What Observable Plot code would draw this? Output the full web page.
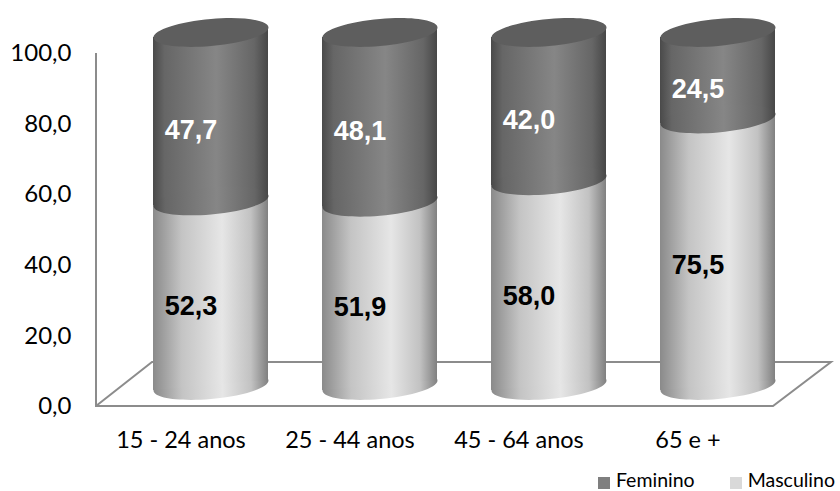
<!DOCTYPE html>
<html>
<head>
<meta charset="utf-8">
<script src="https://cdn.jsdelivr.net/npm/d3@7"></script>
<script src="https://cdn.jsdelivr.net/npm/@observablehq/plot@0.6"></script>
<style>
html,body{margin:0;padding:0;background:#fff;overflow:hidden}
#legend{box-sizing:border-box;display:flex;justify-content:flex-end;align-items:center;height:25px;padding-right:5px;padding-top:2px;font:19.5px Lato,sans-serif;line-height:23px;color:#000}
#legend span.s{display:inline-block;width:12px;height:12px;margin-right:6px;transform:translateY(3px)}
#legend span.t{margin-right:35px}
#legend span.t:last-child{margin-right:0}
</style>
</head>
<body>
<div id="chart"></div>
<div id="legend">
  <span class="s" style="background:#7f7f7f"></span><span class="t">Feminino</span>
  <span class="s" style="background:#d9d9d9"></span><span class="t">Masculino</span>
</div>
<script>
const idades = ["15 - 24 anos", "25 - 44 anos", "45 - 64 anos", "65 e +"];
const masculino = [52.3, 51.9, 58.0, 75.5];
const feminino = [47.7, 48.1, 42.0, 24.5];
const yTicks = [0, 20, 40, 60, 80, 100];

const rows = idades.flatMap((idade, i) => [
  {idade, sexo: "Masculino", valor: masculino[i]},
  {idade, sexo: "Feminino", valor: feminino[i]}
]);
const tops = idades.map((idade, i) => ({idade, base: masculino[i], topo: masculino[i] + feminino[i]}));
const fmt = (v) => v.toFixed(1).replace(".", ",");

const tilt = 0.087;

// Skewed ellipse symbol: the cut of a cylinder seen in Excel-style 3D
const cap = {
  draw(ctx, size) {
    const a = Math.sqrt(size / Math.PI), b = a * 0.235, k = 0.5523;
    const P = (u, v) => [a * u, b * v - tilt * a * u];
    const c = (p1, p2, p3) => ctx.bezierCurveTo(...P(...p1), ...P(...p2), ...P(...p3));
    ctx.moveTo(...P(1, 0));
    c([1, k], [k, 1], [0, 1]);
    c([-k, 1], [-1, k], [-1, 0]);
    c([-1, -k], [-k, -1], [0, -1]);
    c([k, -1], [1, -k], [1, 0]);
    ctx.closePath();
  }
};

// Tilt each bar by the same slope as the ellipses, so their ends meet the bar corners
const tiltBars = (index, scales, values, dims, context, next) => {
  const g = next(index, scales, values, dims, context);
  d3.select(g).selectAll("rect").each(function () {
    const cx = +this.getAttribute("x") + this.getAttribute("width") / 2;
    const deg = Math.atan(-tilt) * 180 / Math.PI;
    this.setAttribute("transform", `translate(0,${tilt * cx}) skewY(${deg})`);
  });
  return g;
};

const defs = () => d3.create("svg:defs").html(`
  <linearGradient id="gDark" x1="0" x2="1" y1="0" y2="0">
    <stop offset="0" stop-color="#4a4a4a"/><stop offset="0.1" stop-color="#666"/>
    <stop offset="0.55" stop-color="#868686"/><stop offset="0.88" stop-color="#666"/>
    <stop offset="1" stop-color="#474747"/>
  </linearGradient>
  <linearGradient id="gLight" x1="0" x2="1" y1="0" y2="0">
    <stop offset="0" stop-color="#8a8a8a"/><stop offset="0.25" stop-color="#c4c4c4"/>
    <stop offset="0.6" stop-color="#e6e6e6"/><stop offset="0.85" stop-color="#c2c2c2"/>
    <stop offset="1" stop-color="#808080"/>
  </linearGradient>`).node();

// 3D floor and back axis line, hung on the frame of the y scale
const floor = (index, {y}, values, {marginLeft, width, marginRight}) => {
  const x0 = marginLeft, x1 = width - marginRight - 2, y0 = y(0), depth = 44;
  const p = d3.path();
  p.moveTo(x0, y(100)); p.lineTo(x0, y0); p.lineTo(x1, y0);
  p.lineTo(x1 + 58, y0 - depth); p.lineTo(x0 + 56, y0 - depth); p.lineTo(x0, y0);
  return d3.create("svg:path").attr("d", p.toString()).attr("fill", "none")
    .attr("stroke", "#8c8c8c").attr("stroke-width", 2).node();
};

const lift = -21;
const plot = Plot.plot({
  width: 840,
  height: 466,
  marginTop: 53,
  marginBottom: 60,
  marginLeft: 96,
  marginRight: 65,
  style: {background: "#fff", fontFamily: "Lato, sans-serif", overflow: "visible", color: "#000", display: "block"},
  x: {domain: idades, paddingInner: 0.32, paddingOuter: 0.165, align: 1, label: null},
  y: {domain: [0, 100], label: null},
  color: {domain: ["Masculino", "Feminino"], range: ["url(#gLight)", "url(#gDark)"]},
  marks: [
    defs,
    floor,
    Plot.axisY({ticks: yTicks, tickSize: 0, tickPadding: 25, tickFormat: fmt, fontSize: 24, label: null}),
    Plot.axisX({tickSize: 0, tickPadding: 25, dx: -30, fontSize: 23.5, label: null}),
    Plot.dot(tops, {x: "idade", y: () => 0, r: 57.5, symbol: cap, fill: "url(#gLight)", dy: lift}),
    Plot.barY(rows, {x: "idade", y: "valor", z: "sexo", fill: "sexo", dy: lift, render: tiltBars}),
    Plot.dot(tops, {x: "idade", y: "base", r: 57.5, symbol: cap, fill: "url(#gDark)", dy: lift}),
    Plot.dot(tops, {x: "idade", y: "topo", r: 57.5, symbol: cap, fill: "#5e5e5e", dy: lift}),
    Plot.text(rows, Plot.stackY({
      x: "idade", y: "valor", z: "sexo", text: (d) => fmt(d.valor),
      fill: (d) => d.sexo === "Feminino" ? "#fff" : "#000",
      fontFamily: "Liberation Sans, Arial, sans-serif", fontWeight: "bold", fontSize: 27,
      dx: -20, dy: -7.5
    }))
  ]
});
document.getElementById("chart").append(plot);
</script>
</body>
</html>
